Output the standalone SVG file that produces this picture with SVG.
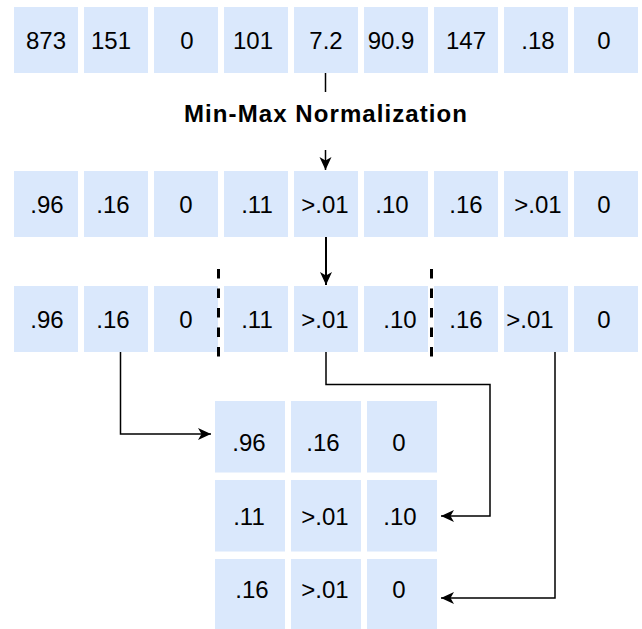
<svg xmlns="http://www.w3.org/2000/svg" width="642" height="629" viewBox="0 0 642 629">
<defs>
<style>
.c{fill:#dae8fc;stroke:none}
.t{font-family:"Liberation Sans",Arial,sans-serif;font-size:24px;fill:#000;text-anchor:middle}
.lbl{font-family:"Liberation Sans",Arial,sans-serif;font-size:24px;font-weight:bold;fill:#000;text-anchor:middle}
.ln{fill:none;stroke:#000;stroke-width:1.5}
.dash{fill:none;stroke:#000;stroke-width:3;stroke-dasharray:9.5 10}
</style>
<marker id="ah" markerUnits="userSpaceOnUse" markerWidth="16" markerHeight="14" viewBox="0 0 16 14" refX="14" refY="7" orient="auto">
<path d="M14,7 L1,1 L4.5,7 L1,13 Z" fill="#000"/>
</marker>
</defs>
<rect width="642" height="629" fill="#fff"/>
<g id="row1">
<g id="r1c1"><rect class="c" x="14" y="7" width="64" height="66"/><text class="t" x="46" y="49">873</text></g>
<g id="r1c2"><rect class="c" x="84" y="7" width="64" height="66"/><text class="t" x="111" y="49">151</text></g>
<g id="r1c3"><rect class="c" x="154" y="7" width="64" height="66"/><text class="t" x="187" y="49">0</text></g>
<g id="r1c4"><rect class="c" x="224" y="7" width="64" height="66"/><text class="t" x="253" y="49">101</text></g>
<g id="r1c5"><rect class="c" x="294" y="7" width="64" height="66"/><text class="t" x="326" y="49">7.2</text></g>
<g id="r1c6"><rect class="c" x="364" y="7" width="64" height="66"/><text class="t" x="391" y="49">90.9</text></g>
<g id="r1c7"><rect class="c" x="434" y="7" width="64" height="66"/><text class="t" x="466" y="49">147</text></g>
<g id="r1c8"><rect class="c" x="504" y="7" width="64" height="66"/><text class="t" x="538" y="49">.18</text></g>
<g id="r1c9"><rect class="c" x="574" y="7" width="64" height="66"/><text class="t" x="604" y="49">0</text></g>
</g>
<g id="row2">
<g id="r2c1"><rect class="c" x="14" y="171" width="64" height="66"/><text class="t" x="47" y="213">.96</text></g>
<g id="r2c2"><rect class="c" x="84" y="171" width="64" height="66"/><text class="t" x="113" y="213">.16</text></g>
<g id="r2c3"><rect class="c" x="154" y="171" width="64" height="66"/><text class="t" x="186" y="213">0</text></g>
<g id="r2c4"><rect class="c" x="224" y="171" width="64" height="66"/><text class="t" x="257" y="213">.11</text></g>
<g id="r2c5"><rect class="c" x="294" y="171" width="64" height="66"/><text class="t" x="325" y="213">&gt;.01</text></g>
<g id="r2c6"><rect class="c" x="364" y="171" width="64" height="66"/><text class="t" x="392" y="213">.10</text></g>
<g id="r2c7"><rect class="c" x="434" y="171" width="64" height="66"/><text class="t" x="466" y="213">.16</text></g>
<g id="r2c8"><rect class="c" x="504" y="171" width="64" height="66"/><text class="t" x="538" y="213">&gt;.01</text></g>
<g id="r2c9"><rect class="c" x="574" y="171" width="64" height="66"/><text class="t" x="604" y="213">0</text></g>
</g>
<g id="row3">
<g id="r3c1"><rect class="c" x="14" y="286" width="64" height="66"/><text class="t" x="47" y="328">.96</text></g>
<g id="r3c2"><rect class="c" x="84" y="286" width="64" height="66"/><text class="t" x="113" y="328">.16</text></g>
<g id="r3c3"><rect class="c" x="154" y="286" width="64" height="66"/><text class="t" x="186" y="328">0</text></g>
<g id="r3c4"><rect class="c" x="224" y="286" width="64" height="66"/><text class="t" x="257" y="328">.11</text></g>
<g id="r3c5"><rect class="c" x="294" y="286" width="64" height="66"/><text class="t" x="325" y="328">&gt;.01</text></g>
<g id="r3c6"><rect class="c" x="364" y="286" width="64" height="66"/><text class="t" x="400" y="328">.10</text></g>
<g id="r3c7"><rect class="c" x="434" y="286" width="64" height="66"/><text class="t" x="466" y="328">.16</text></g>
<g id="r3c8"><rect class="c" x="504" y="286" width="64" height="66"/><text class="t" x="530" y="328">&gt;.01</text></g>
<g id="r3c9"><rect class="c" x="574" y="286" width="64" height="66"/><text class="t" x="604" y="328">0</text></g>
</g>
<g id="dividers">
<line class="dash" x1="218.5" y1="269" x2="218.5" y2="358"/>
<line class="dash" x1="431.5" y1="269" x2="431.5" y2="358"/>
</g>
<g id="grid">
<g id="g11"><rect class="c" x="215" y="401" width="70" height="71.5"/><text class="t" x="249" y="451">.96</text></g>
<g id="g12"><rect class="c" x="291" y="401" width="70" height="71.5"/><text class="t" x="323" y="451">.16</text></g>
<g id="g13"><rect class="c" x="367" y="401" width="70" height="71.5"/><text class="t" x="399" y="451">0</text></g>
<g id="g21"><rect class="c" x="215" y="480" width="70" height="71.5"/><text class="t" x="249" y="525">.11</text></g>
<g id="g22"><rect class="c" x="291" y="480" width="70" height="71.5"/><text class="t" x="325" y="525">&gt;.01</text></g>
<g id="g23"><rect class="c" x="367" y="480" width="70" height="71.5"/><text class="t" x="400" y="525">.10</text></g>
<g id="g31"><rect class="c" x="215" y="559" width="70" height="71.5"/><text class="t" x="252" y="598">.16</text></g>
<g id="g32"><rect class="c" x="291" y="559" width="70" height="71.5"/><text class="t" x="325" y="598">&gt;.01</text></g>
<g id="g33"><rect class="c" x="367" y="559" width="70" height="71.5"/><text class="t" x="399" y="598">0</text></g>
</g>
<g id="connectors">
<path class="ln" d="M325.5,73 V170" marker-end="url(#ah)"/>
<path class="ln" style="stroke-width:2" d="M326,237 V285" marker-end="url(#ah)"/>
<path class="ln" d="M120.5,352 V434 H211" marker-end="url(#ah)"/>
<path class="ln" d="M326,352 V384.5 H490 V516 H441" marker-end="url(#ah)"/>
<path class="ln" d="M555,352 V598 H441" marker-end="url(#ah)"/>
</g>
<g id="label">
<rect x="184" y="92" width="284" height="58" fill="#fff"/>
<text class="lbl" x="325.5" y="122" textLength="283" lengthAdjust="spacing">Min-Max Normalization</text>
</g>
</svg>
